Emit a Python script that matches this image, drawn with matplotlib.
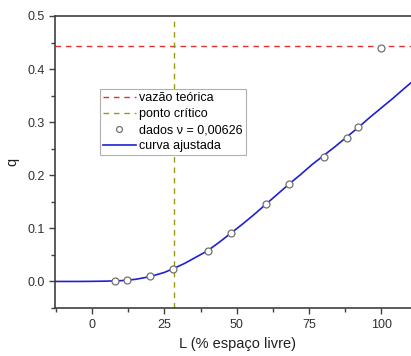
import matplotlib
matplotlib.use("Agg")
import matplotlib.pyplot as plt
from matplotlib.ticker import MultipleLocator

plt.rcParams['font.family'] = ['Liberation Sans', 'DejaVu Sans']

# measured data
L_data = [8, 12, 20, 28, 40, 48, 60, 68, 80, 88, 92, 100]
q_data = [0.0006, 0.002, 0.0094, 0.024, 0.058, 0.091, 0.145, 0.184, 0.2345, 0.271, 0.2916, 0.439]

# fitted curve
L_curve = [-13, -5, 0, 5, 10, 15, 20, 25, 28, 32, 36, 40, 44, 48, 52, 56, 60, 64, 68,
           72, 76, 80, 84, 88, 92, 96, 100, 104, 108, 113]
q_curve = [0.0, 0.0, 0.0002, 0.0006, 0.0015, 0.004, 0.009, 0.017, 0.024, 0.034, 0.046,
           0.058, 0.074, 0.091, 0.108, 0.126, 0.145, 0.164, 0.183, 0.201, 0.220, 0.237,
           0.254, 0.272, 0.290, 0.309, 0.327, 0.345, 0.364, 0.387]

q_teorica = 0.443
L_critico = 28.3

legend_labels = ["vazão teórica", "ponto crítico", "dados ν = 0,00626", "curva ajustada"]

W, H = 411, 356
fig = plt.figure(figsize=(W / 100, H / 100), dpi=100)
ax = fig.add_axes([55 / W, 1 - 308 / H, (419 - 55) / W, (308 - 16) / H])

h1 = ax.axhline(q_teorica, color='#e03030', ls=(0, (4, 3.5)), lw=1.0)
h2 = ax.axvline(L_critico, color='#9a9a10', ls=(0, (4, 3.5)), lw=1.0)
h3, = ax.plot(L_data, q_data, ls='none', marker='o', ms=5, mfc='white', mec='#707070', mew=0.9, zorder=4)
h4, = ax.plot(L_curve, q_curve, color='#2020d0', lw=1.2, zorder=3)

ax.set_xlim(-12.8, 113)
ax.set_ylim(-0.05, 0.5)
ax.xaxis.set_major_locator(MultipleLocator(25))
ax.xaxis.set_minor_locator(MultipleLocator(12.5))
ax.yaxis.set_major_locator(MultipleLocator(0.1))
ax.yaxis.set_minor_locator(MultipleLocator(0.05))
ax.yaxis.set_major_formatter(matplotlib.ticker.FormatStrFormatter('%.1f'))

for s in ax.spines.values():
    s.set_color('#404040')
    s.set_linewidth(1.2)
ax.tick_params(which='both', direction='out', colors='#404040', labelcolor='#303030', labelsize=9)
ax.tick_params(which='major', length=4, width=1)
ax.tick_params(which='minor', length=3, width=1)
ax.tick_params(axis='x', pad=4)

ax.set_xlabel("L (% espaço livre)", fontsize=10.5, color='#202020', labelpad=4)
ax.set_ylabel("q", fontsize=10.5, color='#202020', labelpad=6)

leg = ax.legend([h1, h2, h3, h4], legend_labels, loc='upper left',
                bbox_to_anchor=((100 - 55) / 364, (308 - 89) / 292), borderaxespad=0,
                fontsize=9, fancybox=False, framealpha=1, edgecolor='#b0b0b0',
                handlelength=2.6, handletextpad=0.25, labelspacing=0.32,
                borderpad=0.25, markerscale=0.85)
leg.get_frame().set_linewidth(0.8)

fig.savefig("out.png", dpi=100)
